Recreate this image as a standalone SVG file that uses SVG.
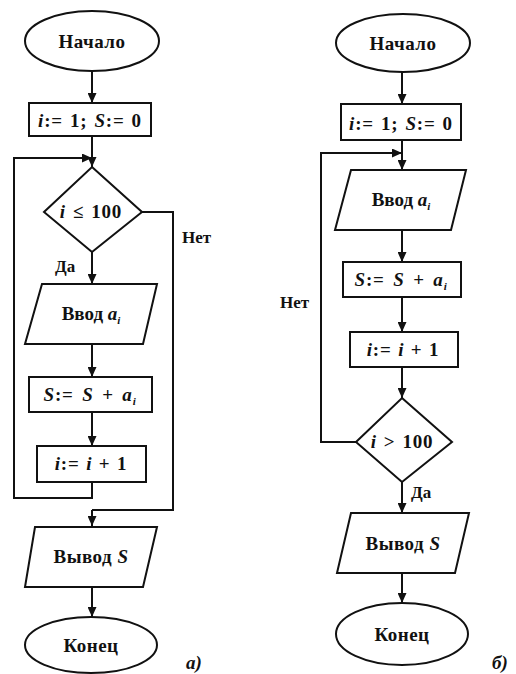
<svg xmlns="http://www.w3.org/2000/svg" width="516" height="674" viewBox="0 0 516 674">
<defs>
<marker id="arr" markerUnits="userSpaceOnUse" markerWidth="10" markerHeight="9" refX="10" refY="4.5" orient="auto">
<path d="M0,0 L10,4.5 L0,9 z" fill="#111"/>
</marker>
<style>
.s{fill:#fff;stroke:#111;stroke-width:2}
.c{fill:none;stroke:#111;stroke-width:2}
.ca{fill:none;stroke:#111;stroke-width:2;marker-end:url(#arr)}
text{font-family:'Liberation Serif','Times New Roman',serif;font-size:19px;font-weight:bold;fill:#111}
.m{text-anchor:middle}
.i{font-style:italic}
.sub{font-size:11px;font-style:italic}
.lbl{font-size:17px}
.f{letter-spacing:0.8px;word-spacing:1.5px}
.f6{letter-spacing:0.8px;word-spacing:3px}
.f3{letter-spacing:0.8px;word-spacing:1px}
</style>
</defs>
<rect width="516" height="674" fill="#fff"/>

<g id="connectors">
<path class="ca" d="M92,71 V103"/>
<path class="ca" d="M92,136 V167"/>
<path class="ca" d="M92,482 V498 H14 V158 H92"/>
<path class="ca" d="M92,252 V284"/>
<path class="c" d="M142,212 H173 V510 H92"/>
<path class="ca" d="M92,510 V526"/>
<path class="ca" d="M92,344 V377"/>
<path class="ca" d="M92,412 V446"/>
<path class="ca" d="M92,587 V617"/>
<path class="ca" d="M402,72 V104"/>
<path class="ca" d="M402,140 V170"/>
<path class="ca" d="M356,442 H321 V153 H402"/>
<path class="ca" d="M402,230 V262"/>
<path class="ca" d="M402,297 V332"/>
<path class="ca" d="M402,367 V398"/>
<path class="ca" d="M402,482 V513"/>
<path class="ca" d="M402,573 V603"/>
</g>

<g id="a_start">
<ellipse class="s" cx="92" cy="41" rx="67" ry="30"/>
<text class="m" x="92" y="48" letter-spacing="0.5">Начало</text>
</g>
<g id="a_init">
<rect class="s" x="29" y="103" width="122" height="33"/>
<text class="m f" x="90" y="127"><tspan class="i">i</tspan>:= 1; <tspan class="i">S</tspan>:= 0</text>
</g>
<g id="a_cond">
<polygon class="s" points="92,167 142,212 92,252 44,212"/>
<text class="m f" x="91" y="218"><tspan class="i">i</tspan> ≤ 100</text>
</g>
<g id="a_input">
<polygon class="s" points="42,284 157,284 143,344 25,344"/>
<text class="m" x="91" y="320">Ввод <tspan class="i">a</tspan><tspan class="sub" dy="4">i</tspan></text>
</g>
<g id="a_sum">
<rect class="s" x="29" y="377" width="123" height="35"/>
<text class="m f6" x="90" y="401"><tspan class="i">S</tspan>:= <tspan class="i">S</tspan> + <tspan class="i">a</tspan><tspan class="sub" dy="4">i</tspan></text>
</g>
<g id="a_inc">
<rect class="s" x="37" y="446" width="109" height="36"/>
<text class="m f3" x="91" y="470"><tspan class="i">i</tspan>:= <tspan class="i">i</tspan> + 1</text>
</g>
<g id="a_output">
<polygon class="s" points="35,527 157,527 143,587 25,587"/>
<text class="m" x="91" y="563" letter-spacing="0.5">Вывод <tspan class="i">S</tspan></text>
</g>
<g id="a_end">
<ellipse class="s" cx="91" cy="645" rx="66" ry="28"/>
<text class="m" x="91" y="652" letter-spacing="0.5">Конец</text>
</g>
<g id="a_labels">
<text class="lbl" x="182" y="243">Нет</text>
<text class="lbl" x="55" y="272">Да</text>
<text class="i" x="186" y="669">а)</text>
</g>

<g id="b_start">
<ellipse class="s" cx="403" cy="43" rx="67" ry="29"/>
<text class="m" x="403" y="50" letter-spacing="0.5">Начало</text>
</g>
<g id="b_init">
<rect class="s" x="341" y="104" width="120" height="36"/>
<text class="m f" x="401" y="130"><tspan class="i">i</tspan>:= 1; <tspan class="i">S</tspan>:= 0</text>
</g>
<g id="b_input">
<polygon class="s" points="351,170 466,170 451,230 335,230"/>
<text class="m" x="401" y="206">Ввод <tspan class="i">a</tspan><tspan class="sub" dy="4">i</tspan></text>
</g>
<g id="b_sum">
<rect class="s" x="343" y="262" width="118" height="35"/>
<text class="m f6" x="401" y="286"><tspan class="i">S</tspan>:= <tspan class="i">S</tspan> + <tspan class="i">a</tspan><tspan class="sub" dy="4">i</tspan></text>
</g>
<g id="b_inc">
<rect class="s" x="350" y="332" width="108" height="35"/>
<text class="m f3" x="403" y="356"><tspan class="i">i</tspan>:= <tspan class="i">i</tspan> + 1</text>
</g>
<g id="b_cond">
<polygon class="s" points="402,398 452,442 402,482 356,442"/>
<text class="m f" x="402" y="448"><tspan class="i">i</tspan> &gt; 100</text>
</g>
<g id="b_output">
<polygon class="s" points="351,513 469,513 455,573 337,573"/>
<text class="m" x="403" y="550" letter-spacing="0.5">Вывод <tspan class="i">S</tspan></text>
</g>
<g id="b_end">
<ellipse class="s" cx="402" cy="634" rx="66" ry="31"/>
<text class="m" x="402" y="641" letter-spacing="0.5">Конец</text>
</g>
<g id="b_labels">
<text class="lbl" x="280" y="308">Нет</text>
<text class="lbl" x="411" y="498">Да</text>
<text class="i" x="492" y="669">б)</text>
</g>
</svg>
